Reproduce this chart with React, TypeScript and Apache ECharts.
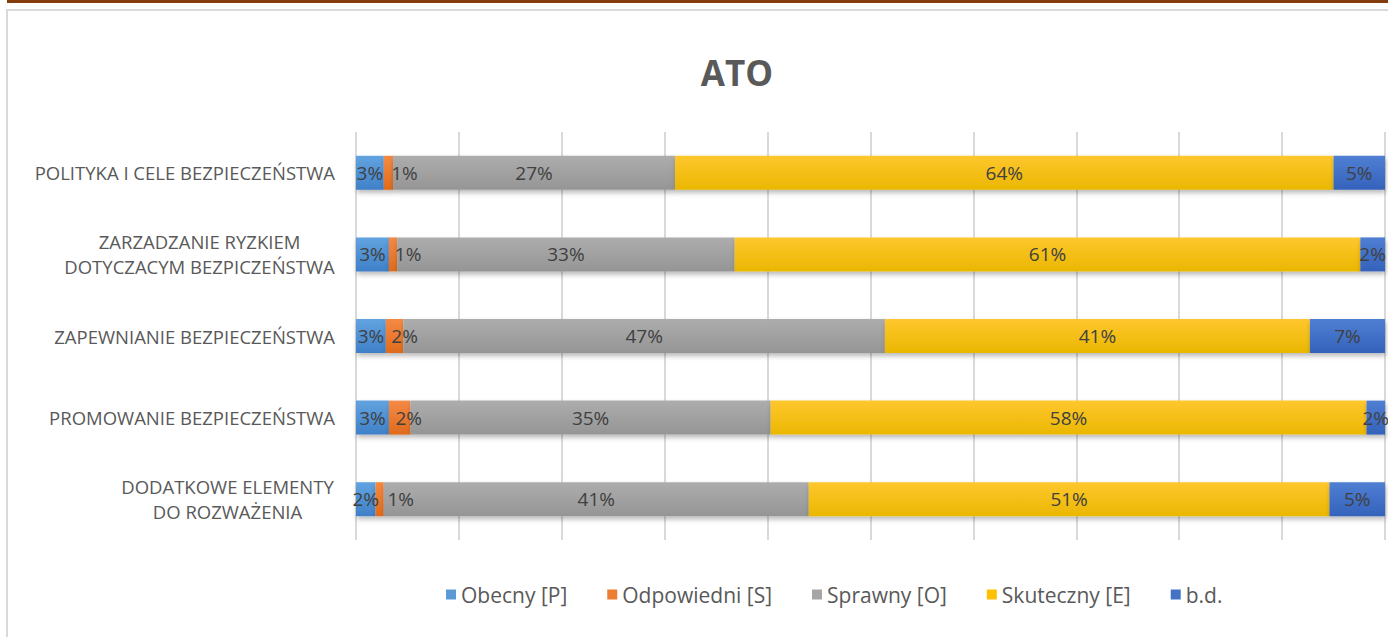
import React, { useEffect, useRef } from "react";
import * as echarts from "echarts";

const titleText = "ATO";
const categories = [
  "POLITYKA I CELE BEZPIECZEŃSTWA",
  "ZARZADZANIE RYZKIEM\nDOTYCZACYM BEZPICZEŃSTWA",
  "ZAPEWNIANIE BEZPIECZEŃSTWA",
  "PROMOWANIE BEZPIECZEŃSTWA",
  "DODATKOWE ELEMENTY\nDO ROZWAŻENIA",
];
const seriesNames = ["Obecny [P]", "Odpowiedni [S]", "Sprawny [O]", "Skuteczny [E]", "b.d."];
const obecny = [2.7, 3.2, 2.9, 3.2, 1.9];
const odpowiedni = [0.9, 0.8, 1.7, 2.1, 0.8];
const sprawny = [27.4, 32.8, 46.8, 35.0, 41.3];
const skuteczny = [64.0, 60.8, 41.3, 57.9, 50.6];
const bd = [5.0, 2.4, 7.3, 1.8, 5.4];
const xTicks = [0, 10, 20, 30, 40, 50, 60, 70, 80, 90, 100];

// label nudges (px) for the narrow orange segments, as Excel shifts them
const odpowiedniLabelShift = [16, 15, 10, 9, 21];

const seriesValues = [obecny, odpowiedni, sprawny, skuteczny, bd];
const colorPairs: [string, string][] = [
  ["#62a3e0", "#3f80c8"],
  ["#f58a45", "#df6b1c"],
  ["#adadad", "#959595"],
  ["#ffc72e", "#eab700"],
  ["#4f7fd3", "#3462bb"],
];
const legendColors = ["#5b9bd5", "#ed7d31", "#a5a5a5", "#ffc000", "#4472c4"];

const FONT = "'Open Sans', 'Noto Sans', sans-serif";
const CAT_SIZE = 18.5;

export default function App() {
  const ref = useRef<HTMLDivElement>(null);
  useEffect(() => {
    if (!ref.current) return;
    const chart = echarts.init(ref.current, undefined, { renderer: "svg" });
    const series = seriesValues.map((vals, i) => ({
      name: seriesNames[i],
      type: "bar",
      stack: "total",
      barWidth: 34,
      data: vals.map((v, j) =>
        i === 1 ? { value: v, label: { offset: [odpowiedniLabelShift[j], 0] } } : v
      ),
      itemStyle: {
        color: new echarts.graphic.LinearGradient(0, 0, 0, 1, [
          { offset: 0, color: colorPairs[i][0] },
          { offset: 1, color: colorPairs[i][1] },
        ]),
        shadowColor: "rgba(0,0,0,0.28)",
        shadowBlur: 5,
        shadowOffsetY: 3,
        shadowOffsetX: 1,
      },
      label: {
        show: true,
        position: "inside",
        color: "#404040",
        fontFamily: FONT,
        fontSize: 19,
        formatter: (p: any) => Math.round(p.value) + "%",
      },
      emphasis: { disabled: true },
    }));
    chart.setOption({
      animation: false,
      color: legendColors,
      title: {
        text: titleText,
        left: 732,
        top: 50,
        textAlign: "center",
        textStyle: { color: "#595959", fontSize: 35, fontWeight: "bold", fontFamily: FONT },
      },
      legend: {
        left: 441,
        top: 579,
        itemWidth: 10,
        itemHeight: 10,
        itemGap: 40,
        icon: "rect",
        textStyle: { color: "#595959", fontSize: 21, fontFamily: FONT },
        data: seriesNames.map((n, i) => ({ name: n, itemStyle: { color: legendColors[i] } })),
      },
      grid: { left: 356, right: 3, top: 132, bottom: 97, containLabel: false },
      xAxis: {
        type: "value",
        min: xTicks[0],
        max: xTicks[xTicks.length - 1],
        interval: xTicks[1] - xTicks[0],
        axisLabel: { show: false },
        axisLine: { show: false },
        axisTick: { show: false },
        splitLine: { show: true, lineStyle: { color: "#d9d9d9", width: 2 } },
      },
      yAxis: {
        type: "category",
        inverse: true,
        data: categories,
        axisLine: { show: false },
        axisTick: { show: false },
        axisLabel: {
          margin: 21,
          color: "#595959",
          fontFamily: FONT,
          fontSize: CAT_SIZE,
          lineHeight: 25,
          formatter: (v: string) => {
            const lines = v.split("\n");
            if (lines.length === 1) return v;
            const w = lines[0].length > lines[1].length ? "a" : "b";
            return lines.map((l) => `{${w}|${l}}`).join("\n");
          },
          rich: {
            a: { width: 215, align: "center", color: "#595959", fontFamily: FONT, fontSize: CAT_SIZE, lineHeight: 25 },
            b: { width: 271, align: "center", color: "#595959", fontFamily: FONT, fontSize: CAT_SIZE, lineHeight: 25 },
          },
        },
      },
      graphic: [
        { type: "rect", shape: { x: 7, y: 0, width: 1400, height: 3 }, style: { fill: "#843c0c" }, silent: true },
        {
          type: "rect",
          shape: { x: 7, y: 10, width: 1420, height: 700 },
          style: { fill: "none", stroke: "#d9d9d9", lineWidth: 2 },
          silent: true,
          z: -10,
        },
      ],
      series,
    });
    return () => chart.dispose();
  }, []);
  return (
    <div
      ref={ref}
      style={{ position: "fixed", left: 0, top: 0, width: 1388, height: 637, background: "#fff" }}
    />
  );
}
